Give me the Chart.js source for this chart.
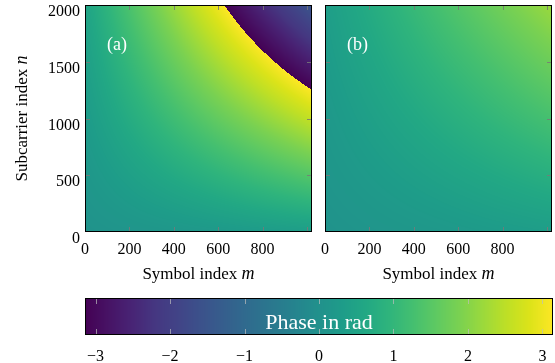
<!DOCTYPE html>
<html><head><meta charset="utf-8">
<script src="https://cdn.jsdelivr.net/npm/chart.js@4"></script>
<style>
html,body{margin:0;padding:0;background:#fff;}
#wrap{position:relative;width:555px;height:363px;overflow:hidden;}
canvas{position:absolute;}
</style></head><body>
<div id="wrap">
<canvas id="ca" style="left:0;top:0" width="320" height="290"></canvas>
<canvas id="cb" style="left:320px;top:0" width="235" height="290"></canvas>
<canvas id="cc" style="left:0;top:290px" width="555" height="73"></canvas>
</div>
<script>
// ---- data ----
const symbolIdx = [0, 256, 512, 768, 1023];          // m grid (columns)
const subcarrierIdx = [0, 500, 1000, 1500, 2000];    // n grid (rows)
// phase in rad, panel (a), rows from n=0 upward
const phaseA = [
  [0.05, 0.13, 0.20, 0.28, 0.35],
  [0.16, 0.49, 0.81, 1.14, 1.46],
  [0.28, 0.85, 1.43, 2.00, 2.58],
  [0.39, 1.21, 2.04, 2.86, -2.59],
  [0.50, 1.58, 2.65, -2.55, -1.48]
];
// phase in rad, panel (b)
const phaseB = [
  [0.05, 0.13, 0.20, 0.28, 0.35],
  [0.13, 0.30, 0.47, 0.64, 0.81],
  [0.20, 0.47, 0.74, 1.01, 1.28],
  [0.28, 0.64, 1.01, 1.37, 1.74],
  [0.35, 0.81, 1.28, 1.74, 2.20]
];
const mTickLabels = [0, 200, 400, 600, 800];
const mTickMarks = [0, 200, 400, 600, 800, 1000];
const nTickLabels = [0, 500, 1000, 1500, 2000];
const phaseTicks = [-3, -2, -1, 0, 1, 2, 3];
const panelNames = ['(a)', '(b)'];

// ---- colormap (viridis) ----
const VIR = ['#440154','#471365','#482475','#453781','#414487','#3b528b','#355f8d','#2f6c8e','#2a788e','#25848e','#21918c','#1e9c89','#22a884','#2fb47c','#44bf70','#5ec962','#7ad151','#9bd93c','#bddf26','#dce319','#fde725'].map(h=>[parseInt(h.slice(1,3),16),parseInt(h.slice(3,5),16),parseInt(h.slice(5,7),16)]);
function viridis(t){
  t = Math.max(0, Math.min(1, t));
  const f = t*(VIR.length-1); const i = Math.min(VIR.length-2, Math.floor(f)); const r = f-i;
  const a = VIR[i], b = VIR[i+1];
  return [a[0]+(b[0]-a[0])*r, a[1]+(b[1]-a[1])*r, a[2]+(b[2]-a[2])*r];
}
const TWO_PI = 2*Math.PI;
function wrapPhase(p){ p = (p + Math.PI) % TWO_PI; if (p < 0) p += TWO_PI; return p - Math.PI; }
function locate(arr, v){
  let i = 0; while (i < arr.length-2 && v > arr[i+1]) i++;
  let f = (v - arr[i])/(arr[i+1]-arr[i]); f = Math.max(0, Math.min(1, f));
  return [i, f];
}
function samplePhase(rows, m, n){
  const [i, fx] = locate(symbolIdx, m);
  const [j, fy] = locate(subcarrierIdx, n);
  const p00 = rows[j][i];
  const rel = p => { let d = p - p00; d -= TWO_PI*Math.round(d/TWO_PI); return d; };
  const d10 = rel(rows[j][i+1]), d01 = rel(rows[j+1][i]), d11 = rel(rows[j+1][i+1]);
  const d = d10*fx*(1-fy) + d01*(1-fx)*fy + d11*fx*fy;
  return wrapPhase(p00 + d);
}

const FAM = 'Liberation Serif';
const FONT = '"Liberation Serif", serif';
Chart.defaults.font.family = FAM;
Chart.defaults.color = '#000';
const tickFont = { family: FAM, size: 16 };

function heatPlugin(rows, label, withYTitle){
  return {
    id: 'heat',
    beforeDatasetsDraw(chart){
      const {left, top, right, bottom} = chart.chartArea;
      const w = Math.round(right-left), h = Math.round(bottom-top);
      const xs = chart.scales.x, ys = chart.scales.y;
      const off = document.createElement('canvas'); off.width = w; off.height = h;
      const octx = off.getContext('2d'); const img = octx.createImageData(w, h);
      for (let py = 0; py < h; py++){
        const n = ys.getValueForPixel(top + py + 0.5);
        for (let px = 0; px < w; px++){
          const m = xs.getValueForPixel(left + px + 0.5);
          const c = viridis((samplePhase(rows, m, n) + Math.PI)/TWO_PI);
          const k = (py*w + px)*4;
          img.data[k] = c[0]; img.data[k+1] = c[1]; img.data[k+2] = c[2]; img.data[k+3] = 255;
        }
      }
      octx.putImageData(img, 0, 0);
      chart.ctx.drawImage(off, left, top);
    },
    afterDraw(chart){
      const ctx = chart.ctx;
      const {left, top, right, bottom} = chart.chartArea;
      const xs = chart.scales.x, ys = chart.scales.y;
      ctx.save();
      ctx.strokeStyle = 'rgba(120,120,120,0.85)'; ctx.lineWidth = 1;
      ctx.beginPath();
      mTickMarks.forEach(v => { const x = Math.round(xs.getPixelForValue(v))+0.5; if (x > left+1 && x < right-1){ ctx.moveTo(x, bottom); ctx.lineTo(x, bottom-5); ctx.moveTo(x, top); ctx.lineTo(x, top+5);} });
      nTickLabels.forEach(v => { const y = Math.round(ys.getPixelForValue(v))+0.5; if (y > top+1 && y < bottom-1){ ctx.moveTo(left, y); ctx.lineTo(left+5, y); ctx.moveTo(right, y); ctx.lineTo(right-5, y);} });
      ctx.stroke();
      ctx.strokeStyle = '#000'; ctx.lineWidth = 1;
      ctx.strokeRect(Math.round(left)+0.5, Math.round(top)+0.5, Math.round(right-left)-1, Math.round(bottom-top)-1);
      ctx.fillStyle = '#fff'; ctx.font = '18px ' + FONT; ctx.textAlign = 'left'; ctx.textBaseline = 'alphabetic';
      ctx.fillText(label, left + 22, top + 45);
      ctx.fillStyle = '#000';
      const drawMixed = (a, b, cx, cy) => {
        ctx.font = '17px ' + FONT; const wa = ctx.measureText(a).width;
        ctx.font = 'italic 18px ' + FONT; const wb = ctx.measureText(b).width;
        const x0 = cx - (wa+wb)/2;
        ctx.textAlign = 'left'; ctx.textBaseline = 'alphabetic';
        ctx.font = '17px ' + FONT; ctx.fillText(a, x0, cy);
        ctx.font = 'italic 18px ' + FONT; ctx.fillText(b, x0 + wa, cy);
      };
      drawMixed('Symbol index ', 'm', (left+right)/2, 279);
      if (withYTitle){
        ctx.translate(22, (top+bottom)/2); ctx.rotate(-Math.PI/2);
        drawMixed('Subcarrier index ', 'n', 0, 5);
      }
      ctx.restore();
    }
  };
}

function gridPoints(){
  const pts = [];
  subcarrierIdx.forEach(n => symbolIdx.forEach(m => pts.push({x: m, y: n})));
  return pts;
}
function noPad(s){ s.paddingTop = 0; s.paddingBottom = 0; s.paddingLeft = 0; s.paddingRight = 0; }

function makePanel(id, rows, label, showY, padding){
  return new Chart(document.getElementById(id), {
    type: 'scatter',
    data: { datasets: [{ data: gridPoints(), pointRadius: 0, pointHoverRadius: 0, showLine: false }] },
    options: {
      responsive: false, animation: false, devicePixelRatio: 1,
      layout: { padding: padding },
      plugins: { legend: { display: false }, tooltip: { enabled: false } },
      events: [],
      scales: {
        x: {
          type: 'linear', min: 0, max: 1023,
          afterBuildTicks: s => { s.ticks = mTickLabels.map(v => ({value: v})); },
          afterFit: s => { s.height = 58; noPad(s); },
          ticks: { font: tickFont, padding: 8, maxRotation: 0, autoSkip: false, color: '#000', callback: v => String(v) },
          grid: { display: false, drawTicks: false }, border: { display: false }
        },
        y: {
          type: 'linear', min: 0, max: 2000, display: showY,
          afterBuildTicks: s => { s.ticks = nTickLabels.map(v => ({value: v})); },
          afterFit: s => { if (showY) s.width = 85; else s.width = 0; noPad(s); },
          ticks: { font: tickFont, padding: 5, labelOffset: 7, autoSkip: false, color: '#000', callback: v => String(v) },
          grid: { display: false, drawTicks: false }, border: { display: false }
        }
      }
    },
    plugins: [heatPlugin(rows, label, showY)]
  });
}

const cbPlugin = {
  id: 'cbar',
  beforeDatasetsDraw(chart){
    const ctx = chart.ctx; const {left, top, right, bottom} = chart.chartArea;
    const xs = chart.scales.x;
    for (let px = Math.round(left); px < Math.round(right); px++){
      const c = viridis((xs.getValueForPixel(px + 0.5) + Math.PI)/TWO_PI);
      ctx.fillStyle = 'rgb(' + c.map(Math.round).join(',') + ')';
      ctx.fillRect(px, top, 1, bottom - top);
    }
  },
  afterDraw(chart){
    const ctx = chart.ctx; const {left, top, right, bottom} = chart.chartArea;
    const xs = chart.scales.x;
    ctx.save();
    ctx.strokeStyle = 'rgba(190,190,190,0.7)'; ctx.lineWidth = 1; ctx.beginPath();
    phaseTicks.forEach(v => { const x = Math.round(xs.getPixelForValue(v))+0.5; ctx.moveTo(x, top); ctx.lineTo(x, top+6); ctx.moveTo(x, bottom); ctx.lineTo(x, bottom-6); });
    ctx.stroke();
    ctx.strokeStyle = '#000';
    ctx.strokeRect(Math.round(left)+0.5, Math.round(top)+0.5, Math.round(right-left)-1, Math.round(bottom-top)-1);
    ctx.fillStyle = '#fff'; ctx.font = '22px ' + FONT; ctx.textAlign = 'center'; ctx.textBaseline = 'alphabetic';
    ctx.fillText('Phase in rad', (left+right)/2, 39);
    ctx.restore();
  }
};

function build(){
  makePanel('ca', phaseA, panelNames[0], true, {left: 0, right: 8, top: 5, bottom: 0});
  makePanel('cb', phaseB, panelNames[1], false, {left: 5, right: 3, top: 5, bottom: 0});
  new Chart(document.getElementById('cc'), {
    type: 'scatter',
    data: { datasets: [{ data: phaseTicks.map(v => ({x: v, y: 0.5})), pointRadius: 0, pointHoverRadius: 0 }] },
    options: {
      responsive: false, animation: false, devicePixelRatio: 1,
      layout: { padding: { left: 85, right: 2, top: 8, bottom: 0 } },
      plugins: { legend: { display: false }, tooltip: { enabled: false } },
      events: [],
      scales: {
        x: {
          type: 'linear', min: -Math.PI, max: Math.PI,
          afterBuildTicks: s => { s.ticks = phaseTicks.map(v => ({value: v})); },
          afterFit: s => { s.height = 28; noPad(s); },
          ticks: { font: tickFont, padding: 12, maxRotation: 0, autoSkip: false, color: '#000',
                   callback: v => (v < 0 ? '\u2212' + Math.abs(v) : String(v)) },
          grid: { display: false, drawTicks: false }, border: { display: false }
        },
        y: { type: 'linear', min: 0, max: 1, display: false }
      }
    },
    plugins: [cbPlugin]
  });
}
if (document.fonts && document.fonts.load) {
  Promise.all([document.fonts.load('16px "Liberation Serif"'), document.fonts.load('italic 16px "Liberation Serif"')]).then(build, build);
} else build();
</script>
</body></html>
